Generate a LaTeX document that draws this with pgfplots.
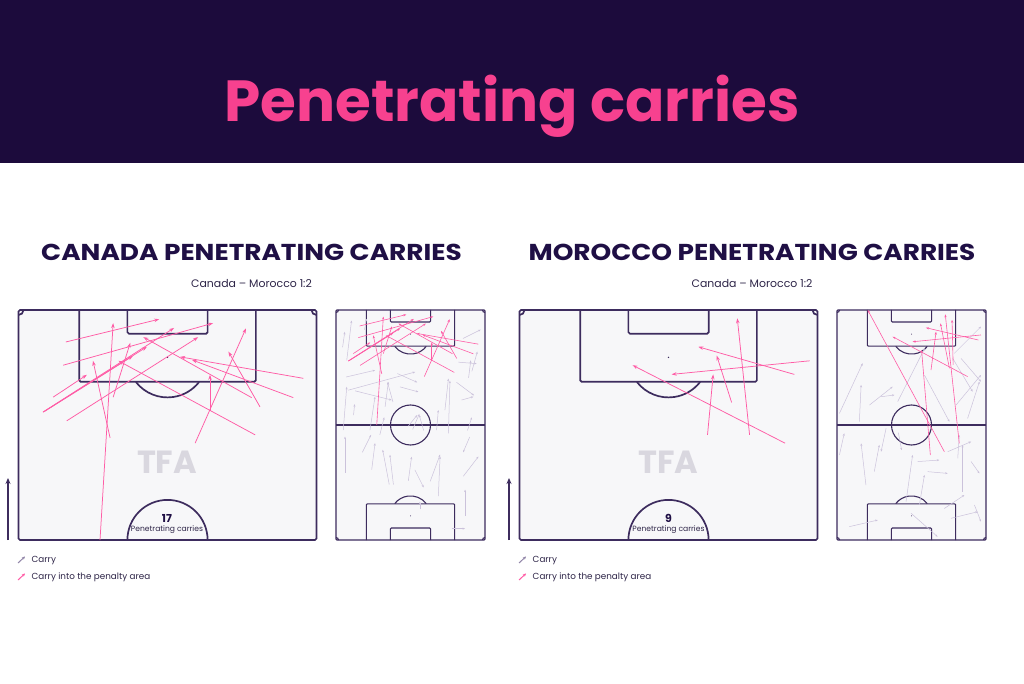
\documentclass[border=0pt]{standalone}
\usepackage{pgfplots}
\pgfplotsset{compat=1.18}
\usepackage{pgfplotstable}
\usetikzlibrary{arrows.meta}
\usepackage{fontspec}
\setmainfont{Poppins}

\definecolor{banner}{HTML}{1C0B3C}
\definecolor{titlepink}{HTML}{F7418F}
\definecolor{navy}{HTML}{1F0F45}
\definecolor{plc}{HTML}{3D2C5E}
\definecolor{pbg}{HTML}{F7F7F9}
\definecolor{pinkc}{HTML}{FF5CA6}
\definecolor{greyc}{HTML}{CBC2DB}
\definecolor{tfa}{HTML}{D9D7DF}
\definecolor{txt}{HTML}{2E2548}

% Canada carries into the penalty area
\pgfplotstableread{
x1 y1 x2 y2
10.8 97.7 32.1 102.9
10.2 92.4 44.4 102.0
18.6 52.5 21.6 102.0
20.9 75.8 17.0 93.4
21.6 85.1 25.5 97.5
5.6 81.7 29.3 96.6
5.6 81.7 35.5 100.9
7.9 85.1 15.6 90.2
11.0 79.7 41.0 98.8
6.0 81.9 26.1 94.5
65.0 89.4 36.9 94.3
62.7 85.0 39.6 93.6
55.1 82.9 47.9 95.5
53.2 85.0 28.5 98.8
54.0 76.5 22.8 93.4
40.3 74.6 51.9 100.8
43.7 81.9 43.7 90.2
}\canpink

% Canada other carries
\pgfplotstableread{
x1 y1 x2 y2
4.9 82.0 7.1 100.2
4.6 74.4 17.8 77.5
5.6 68.4 36.1 76.7
8.7 68.1 25.4 63.9
3.3 50.2 4.9 69.9
15.5 50.2 17.8 65.4
22.4 60.8 23.9 72.2
26.0 63.0 23.5 72.0
29.2 69.9 37.6 67.6
33.0 52.0 37.0 57.0
35.0 50.5 38.0 57.5
40.0 50.0 38.0 57.0
45.9 50.2 46.7 59.3
49.7 59.3 51.3 73.7
51.3 48.7 52.0 72.7
57.3 63.9 62.7 65.4
55.8 81.2 64.2 80.5
60.5 74.0 61.5 82.0
62.0 77.0 64.5 86.0
55.0 72.0 63.0 66.0
8.0 57.0 8.5 62.0
13.0 96.0 14.0 101.0
58.0 92.0 66.0 96.0
3.0 88.0 4.0 95.0
28.0 76.0 37.0 72.0
16.3 32.1 17.8 44.2
24.3 25.3 21.3 41.2
26.2 25.3 24.6 38.9
4.1 30.6 4.1 47.2
33.0 27.0 34.5 38.0
43.0 26.8 47.5 39.0
46.7 20.0 47.5 38.1
58.1 29.1 65.0 38.1
61.0 47.0 58.0 40.0
58.9 10.9 58.9 23.0
52.8 5.2 58.9 5.2
12.0 40.0 16.0 48.0
36.0 32.0 40.0 24.0
60.0 50.0 62.0 56.0
20.0 48.0 22.0 56.0
38.3 14.0 38.3 17.5
}\cangrey

% Morocco carries into the penalty area (half pitch)
\pgfplotstableread{
x1 y1 x2 y2
60.6 74.6 25.8 92.4
66.2 93.4 34.7 90.3
62.7 90.3 40.8 96.6
52.5 76.5 49.7 103.1
48.4 83.9 45.0 94.6
42.9 76.5 44.2 90.3
}\morpinkhalf

% Morocco carries into the penalty area (full pitch)
\pgfplotstableread{
x1 y1 x2 y2
49.0 40.3 14.0 105.0
42.6 38.8 38.6 86.7
55.8 44.1 49.4 103.0
59.6 74.6 25.4 92.8
65.7 93.6 34.5 90.5
64.5 91.3 40.6 96.9
42.9 77.6 45.2 95.1
51.3 78.4 47.2 98.9
53.0 80.0 52.5 100.5
}\morpinkfull

% Morocco other carries
\pgfplotstableread{
x1 y1 x2 y2
1.1 57.8 11.7 80.7
10.2 54.0 11.0 70.8
14.8 61.6 25.4 70.0
20.1 65.4 26.2 66.2
27.7 63.2 40.0 87.5
53.5 85.2 65.7 97.4
56.6 82.9 65.7 72.3
54.3 61.6 65.7 75.3
59.6 55.5 65.0 72.3
39.9 75.3 51.3 54.0
52.8 82.9 61.9 67.7
1.1 38.8 3.3 48.7
13.2 25.1 11.0 44.1
17.0 31.2 19.3 43.4
28.0 49.0 29.5 41.0
36.8 35.8 46.7 36.5
41.4 31.2 50.5 30.4
31.5 17.5 34.5 38.8
37.6 16.0 39.9 29.7
50.5 40.3 61.2 44.9
57.3 22.1 57.3 43.4
52.0 9.9 64.2 12.9
5.6 6.1 18.6 9.1
49.0 14.4 58.1 20.5
61.2 35.8 65.0 30.4
62.7 16.0 65.7 8.4
33.8 12.2 45.9 1.5
55.1 37.3 55.8 47.9
22.4 51.0 20.1 40.3
}\morgrey

\pgfplotsset{
  pitch/.style={scale only axis, hide axis, anchor=south west,
    xmin=0, xmax=68, clip=false},
  half/.style={pitch, width=298pt, height=230pt, ymin=52.5, ymax=105},
  full/.style={pitch, width=149pt, height=230pt, ymin=0, ymax=105},
  carry/.style={quiver={u=\thisrow{x2}-\thisrow{x1}, v=\thisrow{y2}-\thisrow{y1}}},
}
\tikzset{
  plh/.style={draw=plc, line width=1.7pt, rounded corners=1.5pt},
  plf/.style={draw=plc, line width=1.1pt, rounded corners=1pt},
}

\newcommand{\halfpitch}{%
  \fill[pbg] (axis cs:0,52.5) rectangle (axis cs:68,105);
  \draw[plh] (axis cs:0,52.5) rectangle (axis cs:68,105);
  \draw[plh] (axis cs:13.84,105) -- (axis cs:13.84,88.6) -- (axis cs:54.16,88.6) -- (axis cs:54.16,105);
  \draw[plh] (axis cs:24.84,105) -- (axis cs:24.84,99.6) -- (axis cs:43.16,99.6) -- (axis cs:43.16,105);
  \fill[plc] (axis cs:34,94.2) circle[radius=0.8pt];
  \draw[plh] (axis cs:34,94.2) ++(-142:40.1pt) arc[start angle=-142,end angle=-38,radius=40.1pt];
  \draw[plh] (axis cs:34,52.5) ++(0:40.1pt) arc[start angle=0,end angle=180,radius=40.1pt];
  \draw[plh] (axis cs:0,105) ++(-90:5pt) arc[start angle=-90,end angle=0,radius=5pt];
  \draw[plh] (axis cs:68,105) ++(180:5pt) arc[start angle=180,end angle=270,radius=5pt];
}
\newcommand{\fullpitch}{%
  \fill[pbg] (axis cs:0,0) rectangle (axis cs:68,105);
  \draw[plf] (axis cs:0,0) rectangle (axis cs:68,105);
  \draw[plf] (axis cs:0,52.5) -- (axis cs:68,52.5);
  \draw[plf] (axis cs:34,52.5) circle[radius=20pt];
  \draw[plf] (axis cs:13.84,105) -- (axis cs:13.84,88.5) -- (axis cs:54.16,88.5) -- (axis cs:54.16,105);
  \draw[plf] (axis cs:24.84,105) -- (axis cs:24.84,99.5) -- (axis cs:43.16,99.5) -- (axis cs:43.16,105);
  \draw[plf] (axis cs:34,94) ++(-142:20pt) arc[start angle=-142,end angle=-38,radius=20pt];
  \draw[plf] (axis cs:13.84,0) -- (axis cs:13.84,16.5) -- (axis cs:54.16,16.5) -- (axis cs:54.16,0);
  \draw[plf] (axis cs:24.84,0) -- (axis cs:24.84,5.5) -- (axis cs:43.16,5.5) -- (axis cs:43.16,0);
  \draw[plf] (axis cs:34,11) ++(38:20pt) arc[start angle=38,end angle=142,radius=20pt];
  \fill[plc] (axis cs:34,94) circle[radius=0.5pt];
  \fill[plc] (axis cs:34,11) circle[radius=0.5pt];
  \draw[plf] (axis cs:0,105) ++(-90:2.5pt) arc[start angle=-90,end angle=0,radius=2.5pt];
  \draw[plf] (axis cs:68,105) ++(180:2.5pt) arc[start angle=180,end angle=270,radius=2.5pt];
  \draw[plf] (axis cs:0,0) ++(90:2.5pt) arc[start angle=90,end angle=0,radius=2.5pt];
  \draw[plf] (axis cs:68,0) ++(90:2.5pt) arc[start angle=90,end angle=180,radius=2.5pt];
}

\begin{document}
\begin{tikzpicture}[x=1pt,y=1pt]
\useasboundingbox (0,0) rectangle (1024,683);
\fill[white] (0,0) rectangle (1024,683);
\fill[banner] (0,520) rectangle (1024,683);
\node[anchor=base, text=titlepink, font=\fontsize{58}{66}\selectfont\bfseries] at (512,561) {Penetrating carries};

% ---------- Canada ----------
\node[anchor=base, text=navy, font=\fontsize{23}{27}\selectfont\bfseries] at (251.5,422) {\scalebox{1.145}[1]{CANADA PENETRATING CARRIES}};
\node[anchor=base, text=txt, font=\fontsize{10.9}{13}\selectfont] at (251.5,395) {Canada – Morocco 1:2};

\begin{axis}[half, at={(18.5pt,143pt)}]
  \halfpitch
  \addplot[carry, draw=pinkc, line width=0.75pt, -{Stealth[length=5pt,width=3.5pt]}] table[x=x1,y=y1]{\canpink};
\end{axis}
\node[anchor=base, text=tfa, font=\fontsize{32}{36}\selectfont\bfseries] at (167,210) {TFA};
\node[anchor=base, text=navy, font=\fontsize{11}{13}\selectfont\bfseries] at (167,161) {17};
\node[anchor=base, text=txt, font=\fontsize{7.6}{9}\selectfont] at (167,151.5) {Penetrating carries};

\begin{axis}[full, at={(336pt,143pt)}]
  \fullpitch
  \addplot[carry, draw=greyc, line width=0.5pt, -{Stealth[length=2.5pt,width=2pt]}] table[x=x1,y=y1]{\cangrey};
  \addplot[carry, draw=pinkc, line width=0.6pt, -{Stealth[length=3pt,width=2.2pt]}] table[x=x1,y=y1]{\canpink};
\end{axis}

\draw[plc, line width=1.5pt, -{Stealth[length=6pt,width=5pt]}] (8,143) -- (8,205);
\draw[draw=greyc!60!plc, line width=1pt, -{Stealth[length=3pt,width=3pt]}] (18,120) -- (25,126.5);
\draw[draw=pinkc, line width=1pt, -{Stealth[length=3pt,width=3pt]}] (18,103) -- (25,109.5);
\node[anchor=base west, text=txt, font=\fontsize{8.8}{10}\selectfont, inner sep=0pt] at (31.5,121) {Carry};
\node[anchor=base west, text=txt, font=\fontsize{8.8}{10}\selectfont, inner sep=0pt] at (31.5,104) {Carry into the penalty area};

% ---------- Morocco ----------
\node[anchor=base, text=navy, font=\fontsize{23}{27}\selectfont\bfseries] at (752,422) {\scalebox{1.145}[1]{MOROCCO PENETRATING CARRIES}};
\node[anchor=base, text=txt, font=\fontsize{10.9}{13}\selectfont] at (752,395) {Canada – Morocco 1:2};

\begin{axis}[half, at={(519.5pt,143pt)}]
  \halfpitch
  \addplot[carry, draw=pinkc, line width=0.75pt, -{Stealth[length=5pt,width=3.5pt]}] table[x=x1,y=y1]{\morpinkhalf};
\end{axis}
\node[anchor=base, text=tfa, font=\fontsize{32}{36}\selectfont\bfseries] at (668.5,210) {TFA};
\node[anchor=base, text=navy, font=\fontsize{11}{13}\selectfont\bfseries] at (668.5,161) {9};
\node[anchor=base, text=txt, font=\fontsize{7.6}{9}\selectfont] at (668.5,151.5) {Penetrating carries};

\begin{axis}[full, at={(837pt,143pt)}]
  \fullpitch
  \addplot[carry, draw=greyc, line width=0.5pt, -{Stealth[length=2.5pt,width=2pt]}] table[x=x1,y=y1]{\morgrey};
  \addplot[carry, draw=pinkc, line width=0.6pt, -{Stealth[length=3pt,width=2.2pt]}] table[x=x1,y=y1]{\morpinkfull};
\end{axis}

\draw[plc, line width=1.5pt, -{Stealth[length=6pt,width=5pt]}] (509,143) -- (509,205);
\draw[draw=greyc!60!plc, line width=1pt, -{Stealth[length=3pt,width=3pt]}] (519,120) -- (526,126.5);
\draw[draw=pinkc, line width=1pt, -{Stealth[length=3pt,width=3pt]}] (519,103) -- (526,109.5);
\node[anchor=base west, text=txt, font=\fontsize{8.8}{10}\selectfont, inner sep=0pt] at (532.5,121) {Carry};
\node[anchor=base west, text=txt, font=\fontsize{8.8}{10}\selectfont, inner sep=0pt] at (532.5,104) {Carry into the penalty area};
\end{tikzpicture}
\end{document}
